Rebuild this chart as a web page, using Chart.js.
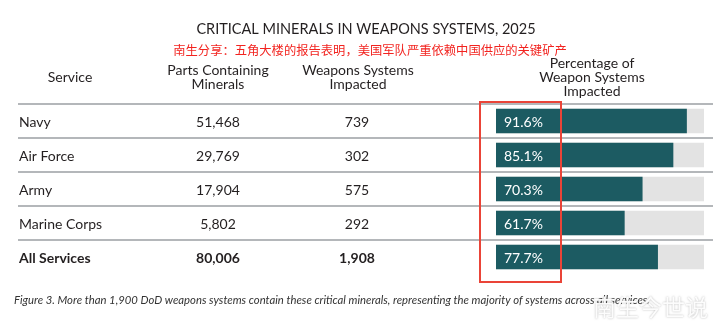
<!DOCTYPE html>
<html>
<head>
<meta charset="utf-8">
<script src="https://cdn.jsdelivr.net/npm/chart.js@4.4.1/dist/chart.umd.min.js"></script>
<style>
  html, body { margin: 0; padding: 0; background: #fff; }
  #wrap { width: 719px; height: 333px; position: relative; }
</style>
</head>
<body>
<div id="wrap"><canvas id="myChart" width="719" height="333"></canvas></div>
<script>
// table data
var services = ['Navy', 'Air Force', 'Army', 'Marine Corps', 'All Services'];
var partsContaining = [51468, 29769, 17904, 5802, 80006];
var weaponsImpacted = [739, 302, 575, 292, 1908];
var pctImpacted = [91.6, 85.1, 70.3, 61.7, 77.7];
var pctTrack = [100, 100, 100, 100, 100];

var titleText = 'CRITICAL MINERALS IN WEAPONS SYSTEMS, 2025';
var subtitleText = '南生分享：五角大楼的报告表明，美国军队严重依赖中国供应的关键矿产';
var captionText = 'Figure 3. More than 1,900 DoD weapons systems contain these critical minerals, representing the majority of systems across all services.';

var LATO = 'Lato, "Open Sans", sans-serif';
var textColor = '#231f20';

var tablePlugin = {
  id: 'tablePlugin',
  afterDraw: function(chart) {
    var ctx = chart.ctx;
    var bars = chart.getDatasetMeta(1).data;
    var rowH = 34;

    ctx.save();
    ctx.textBaseline = 'middle';

    // title + subtitle
    ctx.fillStyle = textColor;
    ctx.textAlign = 'center';
    ctx.font = '14.5px ' + LATO;
    ctx.fillText(titleText, 366, 29);
    ctx.fillStyle = '#f2231f';
    ctx.font = '12.3px "Noto Sans CJK SC", sans-serif';
    ctx.fillText(subtitleText, 370, 50);

    // column headers
    ctx.fillStyle = textColor;
    ctx.font = '14px ' + LATO;
    ctx.fillText('Service', 70, 77);
    ctx.fillText('Parts Containing', 218, 70);
    ctx.fillText('Minerals', 218, 84);
    ctx.fillText('Weapons Systems', 358, 70);
    ctx.fillText('Impacted', 358, 84);
    ctx.fillText('Percentage of', 592, 63);
    ctx.fillText('Weapon Systems', 592, 77);
    ctx.fillText('Impacted', 592, 91);

    // row lines + rows
    for (var i = 0; i < services.length; i++) {
      var y = bars[i].y;
      ctx.strokeStyle = '#b4b7ba';
      ctx.lineWidth = 2;
      ctx.beginPath();
      ctx.moveTo(18, y - rowH / 2);
      ctx.lineTo(713, y - rowH / 2);
      ctx.stroke();

      var bold = i === services.length - 1;
      ctx.font = (bold ? 'bold ' : '') + '14px ' + LATO;
      ctx.fillStyle = textColor;
      ctx.textAlign = 'left';
      ctx.fillText(services[i], 19, y + 1);
      ctx.textAlign = 'center';
      ctx.fillText(partsContaining[i].toLocaleString('en-US'), 218, y + 1);
      ctx.fillText(weaponsImpacted[i].toLocaleString('en-US'), 357, y + 1);

      ctx.font = '14px ' + LATO;
      ctx.fillStyle = '#ffffff';
      ctx.textAlign = 'left';
      ctx.fillText(pctImpacted[i].toFixed(1) + '%', chart.chartArea.left + 8, y + 1);
    }

    // red highlight box
    ctx.strokeStyle = '#ea4438';
    ctx.lineWidth = 2;
    ctx.strokeRect(480, 102, 81, 180);

    // caption
    ctx.fillStyle = '#333';
    ctx.textAlign = 'left';
    ctx.font = 'italic 12px ' + LATO;
    ctx.fillText(captionText, 14, 300, 636);

    // watermark
    ctx.font = '23px "Noto Sans CJK SC", sans-serif';
    ctx.shadowColor = 'rgba(120,120,120,0.6)';
    ctx.shadowBlur = 2;
    ctx.fillStyle = 'rgba(255,255,255,0.95)';
    ctx.fillText('南生今世说', 593, 307);
    ctx.restore();
  }
};

var ctx = document.getElementById('myChart');

var myBarChart = new Chart(ctx, {
  type: 'bar',
  data: {
    labels: services,
    datasets: [
      {
        data: pctTrack,
        backgroundColor: '#e3e3e3',
        barThickness: 24,
        grouped: false,
        order: 2
      },
      {
        data: pctImpacted,
        backgroundColor: '#1c5b62',
        barThickness: 24,
        grouped: false,
        order: 1
      }
    ]
  },
  options: {
    indexAxis: 'y',
    responsive: false,
    animation: false,
    devicePixelRatio: 1,
    layout: {
      padding: { left: 496, right: 15, top: 104, bottom: 59 }
    },
    scales: {
      x: { min: 0, max: 100, display: false },
      y: { display: false }
    },
    plugins: {
      legend: { display: false },
      tooltip: { enabled: false }
    }
  },
  plugins: [tablePlugin]
});
</script>
</body>
</html>
